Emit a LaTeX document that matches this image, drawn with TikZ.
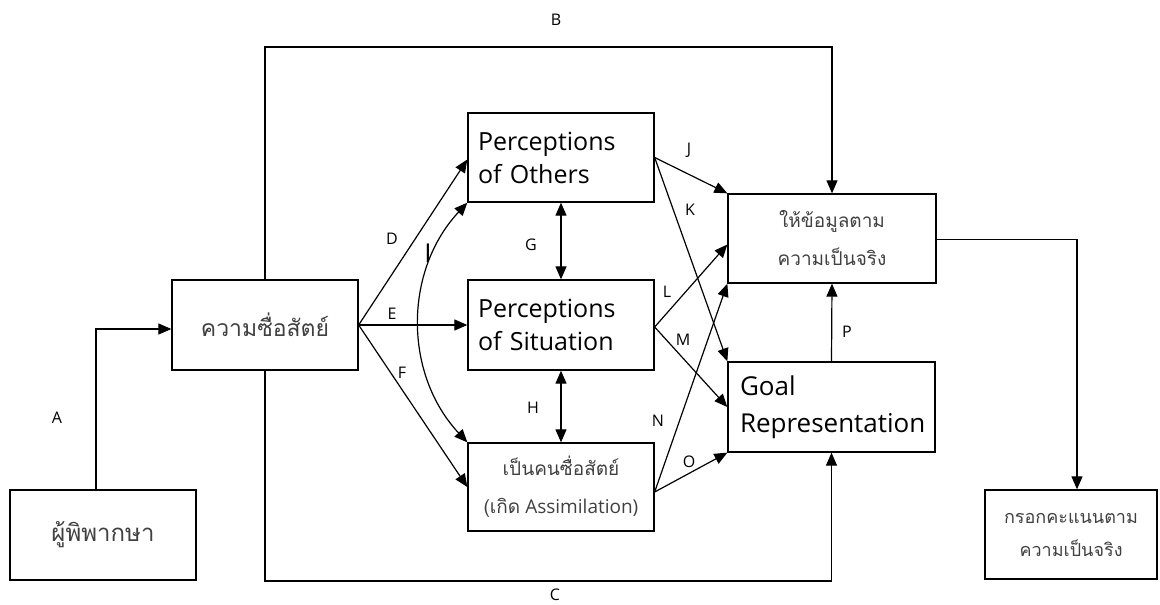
\documentclass[tikz,border=0pt]{standalone}
\usepackage{fontspec}
\setmainfont{Open Sans}
\newfontfamily\thai[Script=Thai]{Loma}
\usetikzlibrary{arrows.meta,calc}
\tikzset{
  box/.style={draw, line width=1.3pt, rectangle, inner sep=0pt, align=center},
  conn/.style={line width=1.2pt, -{Triangle[length=13pt,width=11pt]}},
  dconn/.style={line width=1.2pt, {Triangle[length=13pt,width=11pt]}-{Triangle[length=13pt,width=11pt]}},
  lbl/.style={font=\fontsize{16}{18}\selectfont, inner sep=0pt},
  big/.style={font=\fontsize{25}{33}\selectfont},
  thtxt/.style={text=black!75}
}
\begin{document}
\begin{tikzpicture}[x=1pt,y=-1pt]
\useasboundingbox (0,0) rectangle (1160,605);
% boxes
\node[box, minimum width=186pt, minimum height=90pt, thtxt, font=\thai\fontsize{24}{30}\selectfont] (judge) at (103,535) {ผู้พิพากษา};
\node[box, minimum width=186pt, minimum height=90pt, thtxt, font=\thai\fontsize{23}{30}\selectfont] (honest) at (265,325) {ความซื่อสัตย์};
\node[box, minimum width=186pt, minimum height=89pt, big, align=left, text width=166pt] (poo) at (561,157.5) {Perceptions\\of Others};
\node[box, minimum width=186pt, minimum height=90pt, big, align=left, text width=166pt] (pos) at (561,325) {Perceptions\\of Situation};
\node[box, minimum width=186pt, minimum height=88pt, thtxt, font=\fontsize{19}{38}\selectfont] (hon2) at (561,487) {\thai เป็นคนซื่อสัตย์\\{\thai (เกิด} Assimilation)};
\node[box, minimum width=208pt, minimum height=89pt, thtxt, font=\thai\fontsize{19}{38}\selectfont] (info) at (832,238.5) {ให้ข้อมูลตาม\\ความเป็นจริง};
\node[box, minimum width=207pt, minimum height=90pt, font=\fontsize{26}{37}\selectfont, align=left, text width=183pt] (goal) at (831.5,407) {Goal\\Representation};
\node[box, minimum width=172pt, minimum height=89pt, thtxt, font=\thai\fontsize{18}{33}\selectfont] (fill) at (1071,534.5) {กรอกคะแนนตาม\\ความเป็นจริง};
% coordinates
\coordinate (btop) at (0,47);
\coordinate (cbot) at (0,581);
% connectors
\draw[conn] ([xshift=-7pt]judge.north) |- ([yshift=-4pt]honest.west);
\draw[conn] (honest.north) -- (honest.north |- btop) -| (info.north);
\draw[conn] (honest.south) -- (honest.south |- cbot) -| (goal.south);
\draw[conn] (honest.east) -- ([yshift=-2pt]poo.west);
\draw[conn] (honest.east) -- (pos.west);
\draw[conn] (honest.east) -- (hon2.west);
\draw[dconn] (poo.south west) to[bend right=43] (hon2.north west);
\draw[dconn] (poo.south) -- (pos.north);
\draw[dconn] (pos.south) -- (hon2.north);
\draw[conn] (poo.east) -- (info.north west);
\draw[conn] (poo.east) -- (goal.north west);
\draw[conn] ([yshift=-2pt]pos.east) -- ([yshift=-6pt]info.west);
\draw[conn] ([yshift=-2pt]pos.east) -- (goal.west);
\draw[conn] ([yshift=-5pt]hon2.east) -- (info.south west);
\draw[conn] ([yshift=-5pt]hon2.east) -- (goal.south west);
\draw[conn] (goal.north) -- (info.south);
\draw[conn] ([yshift=-1pt]info.east) -| ([xshift=6pt]fill.north);
% labels
\node[lbl] (la) at (57,418) {A};
\node[lbl] (lb) at (556,20) {B};
\node[lbl] (lc) at (555,595) {C};
\node[lbl] (ld) at (392,239) {D};
\node[lbl] (le) at (392,314) {E};
\node[lbl] (lf) at (402,373) {F};
\node[lbl] (lg) at (531,245) {G};
\node[lbl] (lh) at (533,408) {H};
\node[lbl, font=\fontsize{26}{28}\selectfont] (li) at (428,253) {I};
\node[lbl] (lj) at (689,150) {J};
\node[lbl] (lk) at (690,210) {K};
\node[lbl] (ll) at (667,292) {L};
\node[lbl] (lm) at (683,340) {M};
\node[lbl] (ln) at (658,421) {N};
\node[lbl] (lo) at (689,462) {O};
\node[lbl] (lp) at (847,332) {P};
\end{tikzpicture}
\end{document}
